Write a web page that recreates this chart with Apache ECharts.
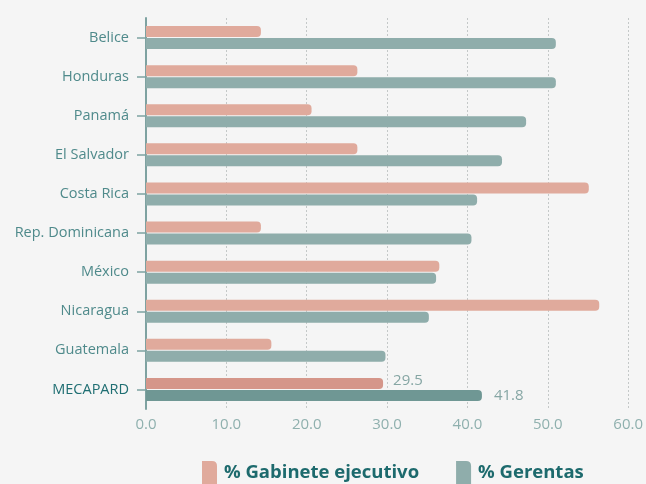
<!DOCTYPE html>
<html>
<head>
<meta charset="utf-8">
<script src="https://cdn.jsdelivr.net/npm/echarts@6/dist/echarts.min.js"></script>
<style>
  html, body { margin: 0; padding: 0; background: #f5f5f5; }
  #chart { width: 646px; height: 484px; }
</style>
</head>
<body>
<div id="chart"></div>
<script>
const countries = ['Belice', 'Honduras', 'Panamá', 'El Salvador', 'Costa Rica',
  'Rep. Dominicana', 'México', 'Nicaragua', 'Guatemala', 'MECAPARD']
const gabinete = [14.3, 26.3, 20.6, 26.3, 55.1, 14.3, 36.5, 56.4, 15.6, 29.5]
const gerentas = [51.0, 51.0, 47.3, 44.3, 41.2, 40.5, 36.1, 35.2, 29.8, 41.8]
const xTicks = [0, 10, 20, 30, 40, 50, 60]

const PINK = '#e0aa9c', PINK_DARK = '#d5968a'
const TEAL = '#8fadab', TEAL_DARK = '#6f9794'
const last = countries.length - 1

const icon = 'path://M0,0 L10,0 Q15,0 15,5 L15,24 L0,24 Z'

function bars(values, color, darkColor, labelOffset) {
  return values.map((v, i) => i === last
    ? { value: v, itemStyle: { color: darkColor },
        label: { show: true, position: 'right', distance: 10, offset: labelOffset,
          formatter: p => p.value.toFixed(1), color: '#86a6a4', fontSize: 15,
          fontFamily: 'Open Sans' } }
    : { value: v, itemStyle: { color: color } })
}

const chart = echarts.init(document.getElementById('chart'), null, { renderer: 'canvas' })
chart.setOption({
  backgroundColor: '#f5f5f5',
  animation: false,
  grid: { left: 146, right: 14, top: 18, bottom: 75, containLabel: false },
  legend: {
    bottom: -6,
    left: 197,
    itemWidth: 15,
    itemHeight: 24,
    itemGap: 37,
    icon: icon,
    textStyle: { color: '#1d6a6d', fontSize: 18.5, fontWeight: 'bold', fontFamily: 'Open Sans',
      padding: [0, 0, 0, 2] },
    data: ['% Gabinete ejecutivo', '% Gerentas']
  },
  xAxis: {
    type: 'value',
    min: xTicks[0],
    max: xTicks[xTicks.length - 1],
    interval: 10,
    axisLine: { show: false },
    axisTick: { show: false },
    axisLabel: { color: '#8fb0ae', fontSize: 15, fontFamily: 'Open Sans', margin: 8,
      formatter: v => v.toFixed(1) },
    splitLine: { show: true, lineStyle: { color: '#c4c8c8', type: [2, 2], width: 1 } }
  },
  yAxis: {
    type: 'category',
    inverse: true,
    data: countries,
    axisLine: { show: true, lineStyle: { color: '#7ea2a1', width: 2 } },
    axisTick: { show: true, alignWithLabel: true, length: 9, lineStyle: { color: '#7ea2a1', width: 1.5 } },
    axisLabel: {
      margin: 17, fontSize: 14.5, fontFamily: 'Open Sans',
      color: (v) => v === 'MECAPARD' ? '#1f6e72' : '#4f8a8b'
    }
  },
  series: [
    {
      name: '% Gabinete ejecutivo',
      type: 'bar',
      barWidth: 11,
      barGap: '9%',
      itemStyle: { color: PINK, borderRadius: [0, 4, 4, 0] },
      data: bars(gabinete, PINK, PINK_DARK, [0, -3])
    },
    {
      name: '% Gerentas',
      type: 'bar',
      barWidth: 11,
      itemStyle: { color: TEAL, borderRadius: [0, 4, 4, 0] },
      data: bars(gerentas, TEAL, TEAL_DARK, [2, 0])
    }
  ]
})
</script>
</body>
</html>
